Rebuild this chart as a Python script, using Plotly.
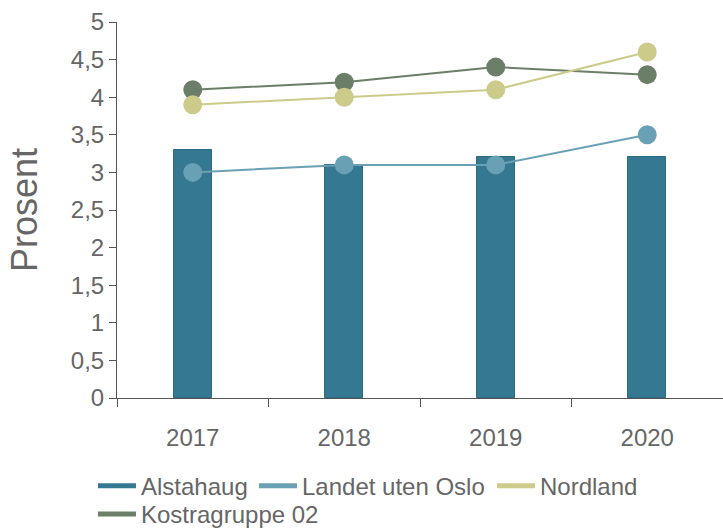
import plotly.graph_objects as go

# Årstall og verdier (prosent)
years = ["2017", "2018", "2019", "2020"]
alstahaug = [3.3, 3.1, 3.2, 3.2]
landet_uten_oslo = [3.0, 3.1, 3.1, 3.5]
nordland = [3.9, 4.0, 4.1, 4.6]
kostragruppe_02 = [4.1, 4.2, 4.4, 4.3]

y_ticks = [0, 0.5, 1, 1.5, 2, 2.5, 3, 3.5, 4, 4.5, 5]

colors = {
    "Alstahaug": "#357891",
    "Landet uten Oslo": "#6aa0b3",
    "Nordland": "#cccb8a",
    "Kostragruppe 02": "#6b7f68",
}

FONT = "Liberation Sans, Arial, sans-serif"
TEXT = "#666666"

fig = go.Figure()

fig.add_trace(go.Bar(
    x=years, y=alstahaug, name="Alstahaug", width=0.25,
    marker=dict(color=colors["Alstahaug"], line=dict(color="#2c6a82", width=1)),
    showlegend=False, legendgroup="a",
))

for name, vals, grp in [
    ("Kostragruppe 02", kostragruppe_02, "k"),
    ("Nordland", nordland, "n"),
    ("Landet uten Oslo", landet_uten_oslo, "l"),
]:
    fig.add_trace(go.Scatter(
        x=years, y=vals, name=name, mode="lines+markers",
        line=dict(color=colors[name], width=2),
        marker=dict(color=colors[name], size=19),
        showlegend=False, legendgroup=grp,
    ))

# Legend entries drawn as short thick lines, each in its own legend box
# (x, y in container fractions) so the spacing can be set per entry
legend_slots = [
    ("Alstahaug", "a", "legend", 0.1286, 0.125),
    ("Landet uten Oslo", "l", "legend2", 0.3513, 0.125),
    ("Nordland", "n", "legend3", 0.6805, 0.125),
    ("Kostragruppe 02", "k", "legend4", 0.1286, 0.072),
]

legend_style = dict(
    orientation="h", xref="container", xanchor="left",
    yref="container", yanchor="top",
    font=dict(size=24, color=TEXT), traceorder="normal",
    itemwidth=38, tracegroupgap=0, bgcolor="rgba(0,0,0,0)",
)

legends = {}
for name, grp, leg, lx, ly in legend_slots:
    fig.add_trace(go.Scatter(
        x=[None], y=[None], name=name, mode="lines",
        line=dict(color=colors[name], width=5),
        legendgroup=grp, showlegend=True, legend=leg,
    ))
    legends[leg] = dict(legend_style, x=lx, y=ly)

fig.update_layout(
    width=723, height=530,
    margin=dict(l=117, r=0, t=22, b=132, autoexpand=False),
    paper_bgcolor="white", plot_bgcolor="white",
    font=dict(family=FONT, color=TEXT, size=24),
    separators=", ",
    showlegend=True,
    xaxis=dict(
        type="category", tickson="boundaries", ticks="outside", ticklen=8,
        showline=True, linecolor="#555555", linewidth=1, tickcolor="#555555",
        showgrid=False, ticklabelstandoff=18,
        tickfont=dict(size=24, color=TEXT),
        range=[-0.5, 3.5],
    ),
    yaxis=dict(
        range=[0, 5], tickvals=y_ticks, ticks="outside", ticklen=7,
        showline=True, linecolor="#555555", linewidth=1, tickcolor="#555555",
        showgrid=False, zeroline=False,
        tickfont=dict(size=24, color=TEXT),
        title=dict(text="Prosent", font=dict(size=36, color=TEXT), standoff=22),
    ),
    bargap=0,
    **legends,
)

fig.write_html("out.html")
